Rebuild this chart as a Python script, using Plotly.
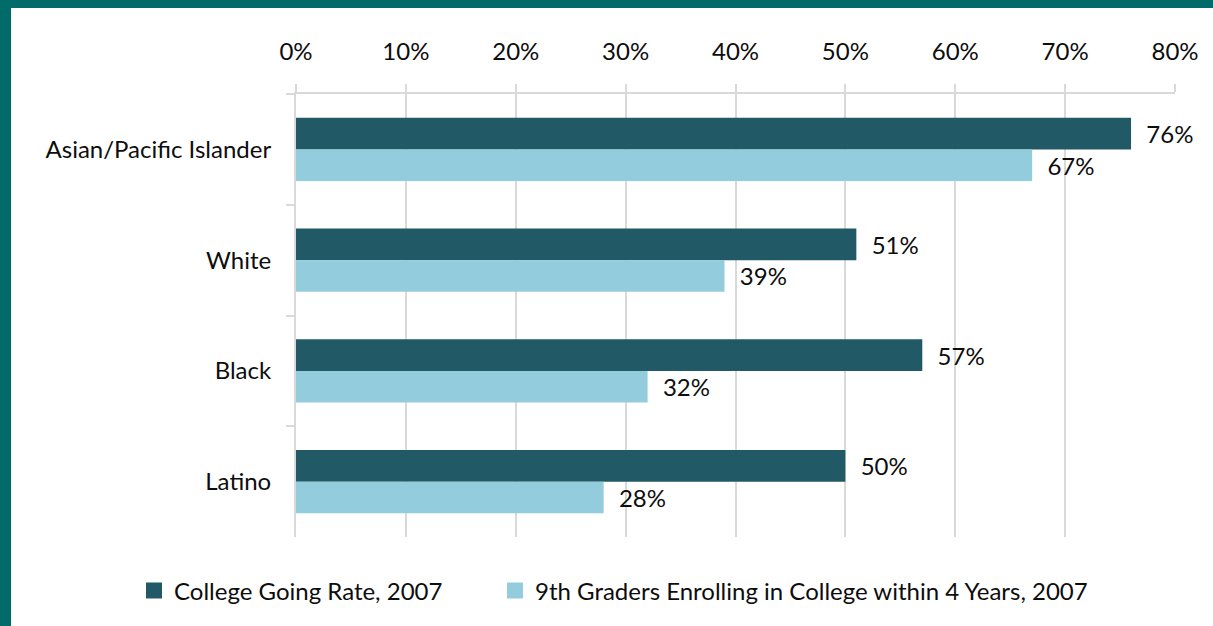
import plotly.graph_objects as go

categories = ["Asian/Pacific Islander", "White", "Black", "Latino"]
college_going = [76, 51, 57, 50]
ninth_graders = [67, 39, 32, 28]
series_names = ["College Going Rate, 2007", "9th Graders Enrolling in College within 4 Years, 2007"]
tick_vals = [0, 10, 20, 30, 40, 50, 60, 70, 80]
tick_text = ["0%", "10%", "20%", "30%", "40%", "50%", "60%", "70%", "80%"]

W, H = 1213, 626
L, R, T, B = 296, 38, 94, 89
pw, ph = W - L - R, H - T - B

FONT = "Lato"
FS = 24
dark = "#225967"
light = "#93CDDD"
grid = "#D9D9D9"
txt = "#0D0D0D"

fig = go.Figure()
for name, vals, col in [(series_names[0], college_going, dark), (series_names[1], ninth_graders, light)]:
    fig.add_trace(go.Bar(
        name=name, y=categories, x=vals, orientation="h",
        marker=dict(color=col, line=dict(width=0)),
        text=[f"  {v}%" for v in vals], textposition="outside",
        constraintext="none", cliponaxis=False, showlegend=False,
        textfont=dict(family=FONT, size=FS, color=txt),
    ))
for name, col, lg in [(series_names[0], dark, "legend"), (series_names[1], light, "legend2")]:
    fig.add_trace(go.Scatter(
        name=name, x=[None], y=[None], mode="markers",
        marker=dict(symbol="square", size=16, color=col),
        showlegend=True, legend=lg,
    ))

def px(xp):
    return (xp - L) / pw

def py(yp):
    return 1 - (yp - T) / ph

teal = "#006B68"
fig.add_shape(type="rect", xref="paper", yref="paper", x0=px(0), x1=px(W), y0=py(0), y1=py(8),
              fillcolor=teal, line=dict(width=0), layer="above")
fig.add_shape(type="rect", xref="paper", yref="paper", x0=px(0), x1=px(11), y0=py(H), y1=py(0),
              fillcolor=teal, line=dict(width=0), layer="above")

legend_common = dict(orientation="h", xanchor="left", y=py(591), yanchor="middle",
                     font=dict(family=FONT, size=FS, color=txt), itemwidth=30,
                     bgcolor="rgba(0,0,0,0)")

fig.update_layout(
    width=W, height=H,
    margin=dict(l=L, r=R, t=T, b=B, autoexpand=False),
    paper_bgcolor="white", plot_bgcolor="white",
    barmode="group", bargap=0.43, bargroupgap=0,
    font=dict(family=FONT, size=FS, color=txt),
    xaxis=dict(side="top", range=[0, 80], tickvals=tick_vals, ticktext=tick_text,
               showgrid=True, gridcolor=grid, gridwidth=2,
               showline=True, linecolor=grid, linewidth=2,
               ticks="outside", ticklen=8, tickwidth=2, tickcolor=grid,
               zeroline=False, tickfont=dict(family=FONT, size=FS, color=txt),
               ticklabelstandoff=14, fixedrange=True),
    yaxis=dict(categoryorder="array", categoryarray=categories, autorange="reversed",
               showline=True, linecolor=grid, linewidth=2,
               ticks="outside", ticklen=8, tickwidth=2, tickcolor=grid,
               tickson="boundaries", showgrid=False,
               tickfont=dict(family=FONT, size=FS, color=txt), ticklabelstandoff=18),
    legend=dict(x=px(134), **legend_common),
    legend2=dict(x=px(495), **legend_common),
    showlegend=True,
)

fig.write_html("out.html", config={"displayModeBar": False},
               post_script="document.body.style.margin='0';")
